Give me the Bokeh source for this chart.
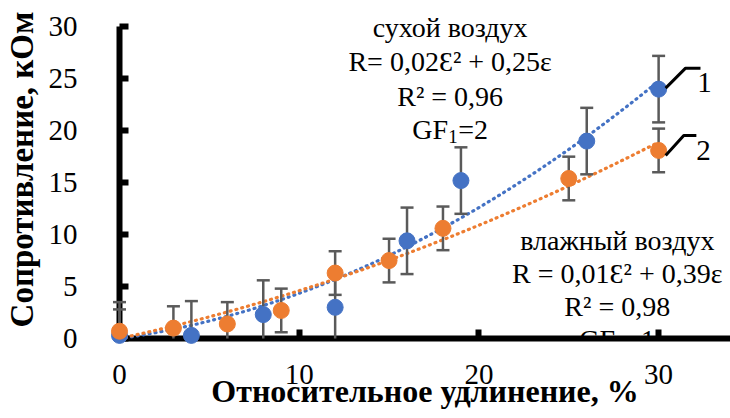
import numpy as np
from bokeh.plotting import figure
from bokeh.models import Range1d, LinearAxis, Label, FixedTicker
from bokeh.embed import file_html
from bokeh.resources import INLINE

# ---------------- data ----------------
dry_x = [0, 4, 8, 12, 16, 19, 26, 30]
dry_y = [0.3, 0.3, 2.3, 3.0, 9.4, 15.2, 19.0, 24.0]
dry_err = [3.2, 3.3, 3.3, 3.2, 3.2, 3.2, 3.2, 3.2]

wet_x = [0, 3, 6, 9, 12, 15, 18, 25, 30]
wet_y = [0.7, 1.0, 1.4, 2.7, 6.3, 7.5, 10.6, 15.4, 18.1]
wet_err = [2.1, 2.1, 2.1, 2.1, 2.1, 2.1, 2.1, 2.1, 2.1]

x_ticks = [0, 10, 20, 30]
y_ticks = [0, 5, 10, 15, 20, 25, 30]

dry_notes = ["сухой воздух", "R= 0,02Ɛ² + 0,25ε", "R² = 0,96"]
dry_gf = ["GF", "1", "=2"]
wet_notes = ["влажный воздух", "R = 0,01Ɛ² + 0,39ε", "R² = 0,98"]
wet_gf = ["GF", "2", "=1"]
series_labels = ["1", "2"]

x_title = "Относительное удлинение, %"
y_title = "Сопротивление, кОм"

# ---------------- style ----------------
BLUE = "#4472C4"
ORANGE = "#ED7D31"
ERR = "#5A5A5A"
FONT = "Liberation Serif"

W, H = 730, 418
X_END = 34.0
Y_END = 32.53

p = figure(width=W, height=H, output_backend="svg", toolbar_location=None,
           x_range=Range1d(0, X_END), y_range=Range1d(0, Y_END),
           x_axis_location=None, y_axis_location=None,
           min_border_left=118, min_border_right=0, min_border_top=0, min_border_bottom=80)
p.outline_line_color = None
p.grid.visible = False
p.background_fill_color = "white"
p.border_fill_color = "white"

xa = LinearAxis(bounds=(0, 35.3), ticker=FixedTicker(ticks=x_ticks))
ya = LinearAxis(bounds=(0, 30), ticker=FixedTicker(ticks=y_ticks))
for ax in (xa, ya):
    ax.axis_line_width = 6
    ax.axis_line_color = "black"
    ax.major_tick_in = 9
    ax.major_tick_out = 0
    ax.major_tick_line_width = 6
    ax.major_tick_line_color = "black"
    ax.minor_tick_line_color = None
    ax.major_label_text_font = FONT
    ax.major_label_text_font_size = "29px"
    ax.major_label_text_color = "black"
    ax.axis_label_text_font = FONT
    ax.axis_label_text_font_style = "bold"
    ax.axis_label_text_color = "black"
xa.major_label_standoff = 26
xa.axis_label = x_title
xa.axis_label_text_font_size = "32px"
xa.axis_label_standoff = -14
ya.major_label_standoff = 42
ya.major_label_orientation = "horizontal"
ya.axis_label = y_title
ya.axis_label_text_font_size = "33px"
ya.axis_label_standoff = 6
p.add_layout(xa, "below")
p.add_layout(ya, "left")


def fit_curve(xs, ys):
    xs = np.asarray(xs, float)
    ys = np.asarray(ys, float)
    A = np.column_stack([xs ** 2, xs])
    coef, *_ = np.linalg.lstsq(A, ys, rcond=None)
    xx = np.linspace(0, max(xs), 80)
    return xx, coef[0] * xx ** 2 + coef[1] * xx


def draw_series(xs, ys, errs, color):
    xs = np.asarray(xs, float)
    ys = np.asarray(ys, float)
    errs = np.asarray(errs, float)
    top = ys + errs
    low_raw = ys - errs
    low = np.clip(low_raw, 0, None)
    p.segment(x0=xs, y0=low, x1=xs, y1=top, line_color=ERR, line_width=2.5, level="overlay")
    p.scatter(x=xs, y=top, marker="dash", size=13, line_color=ERR, line_width=2.5, level="overlay")
    keep = low_raw >= 0
    p.scatter(x=xs[keep], y=low_raw[keep], marker="dash", size=13, line_color=ERR,
              line_width=2.5, level="overlay")
    p.scatter(x=xs, y=ys, size=16, fill_color=color, line_color=color, level="overlay")


# trendlines
for xs, ys, col in ((dry_x, dry_y, BLUE), (wet_x, wet_y, ORANGE)):
    tx, ty = fit_curve(xs, ys)
    p.line(tx, ty, line_color=col, line_width=3.2, line_dash="1 5", line_cap="round",
           level="overlay")

draw_series(dry_x, dry_y, dry_err, BLUE)
draw_series(wet_x, wet_y, wet_err, ORANGE)

# leader lines to series numbers (offsets from the last point, in data units)
xd, yd = dry_x[-1], dry_y[-1]
p.line([xd + 0.39, xd + 1.5, xd + 2.33], [yd + 0.1, yd + 2.02, yd + 2.02],
       line_color="black", line_width=3, level="overlay")
xw, yw = wet_x[-1], wet_y[-1]
p.line([xw + 0.39, xw + 1.4, xw + 2.1], [yw - 0.48, yw + 1.44, yw + 1.44],
       line_color="black", line_width=3, level="overlay")
p.add_layout(Label(x=xd + 2.15, y=yd + 0.64, text=series_labels[0], text_font=FONT,
                   text_font_size="29px", text_color="black", text_baseline="alphabetic",
                   text_align="left"))
p.add_layout(Label(x=xw + 2.1, y=yw + 0.0, text=series_labels[1], text_font=FONT,
                   text_font_size="29px", text_color="black", text_baseline="alphabetic",
                   text_align="left"))


def note_block(cx, baselines, lines, gf):
    for txt, by in zip(lines, baselines):
        p.add_layout(Label(x=cx, y=by, text=txt, text_font=FONT, text_font_size="28px",
                           text_color="black", text_align="center",
                           text_baseline="alphabetic"))
    by = baselines[-1] - 3.2
    p.add_layout(Label(x=cx, y=by, x_offset=-38, text=gf[0], text_font=FONT,
                       text_font_size="28px", text_color="black", text_align="left",
                       text_baseline="alphabetic"))
    p.add_layout(Label(x=cx, y=by - 0.7, x_offset=-2, text=gf[1], text_font=FONT,
                       text_font_size="19px", text_color="black", text_align="left",
                       text_baseline="alphabetic"))
    p.add_layout(Label(x=cx, y=by, x_offset=8, text=gf[2], text_font=FONT,
                       text_font_size="28px", text_color="black", text_align="left",
                       text_baseline="alphabetic"))


note_block(18.4, [29.93, 26.66, 23.3], dry_notes, dry_gf)
note_block(27.7, [9.43, 6.26, 3.08], wet_notes, wet_gf)

open("out.html", "w").write(file_html(p, INLINE))
